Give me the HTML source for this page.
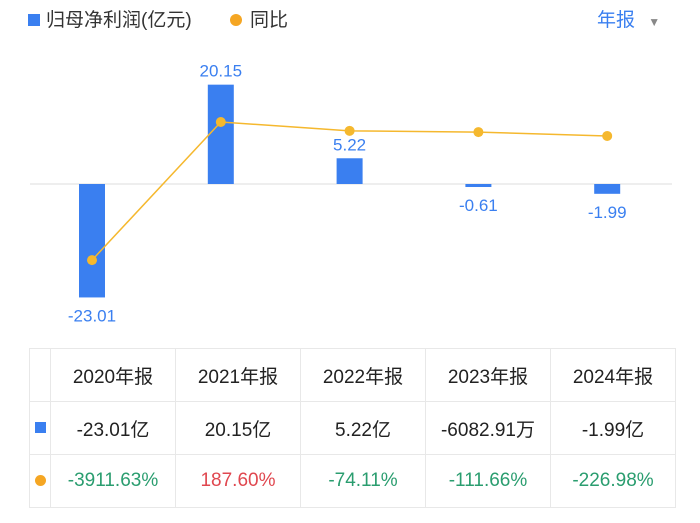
<!DOCTYPE html>
<html><head><meta charset="utf-8"><style>
body{margin:0;width:700px;height:523px;background:#fff;font-family:"Liberation Sans","Noto Sans CJK SC",sans-serif;overflow:hidden;position:relative}
.lg{position:absolute;top:5px;font-size:19px;color:#333}
table{position:absolute;left:29px;top:348px;border-collapse:collapse;font-size:19px;color:#222}
td{border:1px solid #e8e8e8;text-align:center;height:52px;padding:0}
</style></head><body>
<div>
<div class="lg" style="left:28px"><span style="display:inline-block;width:12px;height:12px;background:#3a7ff0;margin-right:6px"></span>归母净利润(亿元)</div>
<div class="lg" style="left:230px"><span style="display:inline-block;width:12px;height:12px;border-radius:50%;background:#f5a623;margin-right:8px"></span>同比</div>
</div>
<div class="lg" style="left:597px;color:#3a7ff0">年报 <span style="font-size:12px;color:#888;margin-left:8px">▼</span></div>
<svg id="c" width="700" height="340" style="position:absolute;left:0;top:0"></svg>
<table>
<tr><td style="width:20px"></td><td style="width:124px">2020年报</td><td style="width:124px">2021年报</td><td style="width:124px">2022年报</td><td style="width:124px">2023年报</td><td style="width:124px">2024年报</td></tr>
<tr><td><span style="display:inline-block;width:11px;height:11px;background:#3a7ff0"></span></td><td>-23.01亿</td><td>20.15亿</td><td>5.22亿</td><td>-6082.91万</td><td>-1.99亿</td></tr>
<tr><td><span style="display:inline-block;width:11px;height:11px;border-radius:50%;background:#f5a623"></span></td><td style="color:#2a9d6f">-3911.63%</td><td style="color:#e0474f">187.60%</td><td style="color:#2a9d6f">-74.11%</td><td style="color:#2a9d6f">-111.66%</td><td style="color:#2a9d6f">-226.98%</td></tr>
</table>
<script>
const categories=["2020年报","2021年报","2022年报","2023年报","2024年报"];
const profit=[-23.01,20.15,5.22,-0.61,-1.99];
const yoy=[-3911.63,187.60,-74.11,-111.66,-226.98];
const labels=["-23.01","20.15","5.22","-0.61","-1.99"];
const svg=document.getElementById('c'),NS="http://www.w3.org/2000/svg";
const x=i=>92+i*128.8, y=v=>184-v*4.93, y2=v=>122+(187.6-v)*0.0337;
function mk(t,a){const e=document.createElementNS(NS,t);for(const k in a)e.setAttribute(k,a[k]);svg.appendChild(e);return e;}
const zl=mk('line',{x1:30,x2:672,y1:184,y2:184,stroke:'#ddd'});


profit.forEach((v,i)=>{
 const b=mk('rect',{x:x(i)-13,width:26,y:Math.min(y(v),184),height:Math.abs(y(v)-184),fill:'#3a7ff0'});
 
 
 const t=mk('text',{x:x(i),y:v>=0?y(v)-8:y(v)+24,'text-anchor':'middle','font-size':17,fill:'#3a7ff0'});
 t.textContent=labels[i];
 
 
});
const pl=mk('polyline',{points:yoy.map((v,i)=>x(i)+','+y2(v)).join(' '),fill:'none',stroke:'#f5b82e','stroke-width':1.5});


yoy.forEach((v,i)=>{
 const c=mk('circle',{cx:x(i),cy:y2(v),r:5,fill:'#f5b82e'});
 
 
});
</script>
</body></html>
